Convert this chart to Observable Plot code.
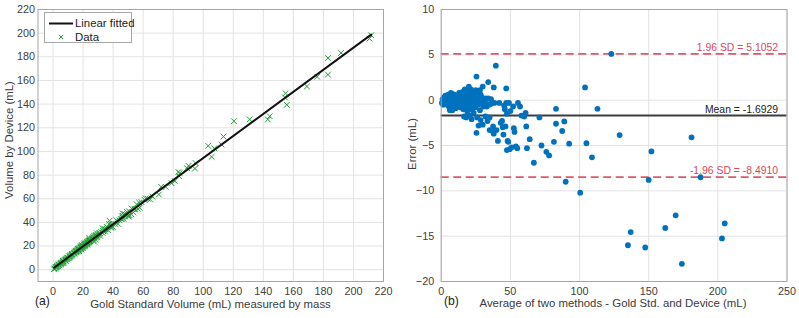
<!DOCTYPE html>
<html>
<head>
<meta charset="utf-8">
<script src="https://cdn.jsdelivr.net/npm/d3@7"></script>
<script src="https://cdn.jsdelivr.net/npm/@observablehq/plot@0.6"></script>
<style>
  body { margin: 0; background: #fff; }
  #wrap { position: relative; width: 799px; height: 318px; font-family: "Liberation Sans", Arial, Helvetica, sans-serif; color: #333; }
  #wrap svg.plot { position: absolute; top: 0; }
  .lbl { position: absolute; white-space: nowrap; font-size: 11.4px; color: #3a3a3a; line-height: 1; }
  .tag { position: absolute; white-space: nowrap; font-size: 12.2px; color: #222; line-height: 1; }
  .rot { transform: translate(-50%, -50%) rotate(-90deg); }
  .cx { transform: translate(-50%, -50%); }
  .legend { position: absolute; left: 44px; top: 12px; width: 88px; height: 31px; border: 1px solid #a8a8a8; background: #fff; box-sizing: border-box; }
  .legend .row { position: absolute; white-space: nowrap; height: 13px; font-size: 11.4px; color: #222; line-height: 13px; }
</style>
</head>
<body>
<div id="wrap"></div>
<script>
// Bland–Altman pairs: mean of the two methods (mL) and difference Device − Gold (mL)
const meanVol = [
  0.5, 1, 1.5, 2, 2.5, 3, 3, 3.5, 4, 4.5, 5, 5, 5.5, 6, 6, 6.5, 7, 7, 7.5, 8,
  8, 8.5, 9, 9, 9.5, 10, 10, 10.5, 11, 11.5, 12, 12, 12.5, 13, 13.5, 14, 14, 14.5, 15, 15,
  15.5, 16, 16, 16.5, 16.5, 17, 17, 17.5, 17.5, 18, 18, 18.5, 18.5, 19, 19, 19, 19.5, 19.5, 20, 20,
  20, 20.5, 20.5, 21, 21, 21.5, 21.5, 22, 22, 22, 22.5, 22.5, 23, 23, 23.5, 23.5, 24, 24, 24.5, 24.5,
  25, 25, 25.5, 25.5, 26, 26, 26.5, 27, 27, 27.5, 28, 28, 28.5, 29, 29, 30, 30, 30.5, 31, 32,
  32, 33, 33.5, 34, 34, 34.5, 35, 35, 36, 36, 37, 37.5, 38, 38, 38.5, 39.5, 40, 41, 42, 43,
  44, 44.5, 45, 45.5, 46, 46.5, 47, 47, 47.5, 47.5, 48, 48.5, 49, 49.5, 50, 51, 52, 52.5, 53, 54,
  55, 55.5, 57, 58, 60, 61, 61.5, 62, 64, 67, 71, 72.5, 76, 78, 81.5, 83, 83, 87.5, 89, 90,
  92.5, 100.5, 104, 105, 109, 113, 123, 129, 135, 137, 147.5, 150, 152, 162, 169.5, 174, 181, 187.5, 203, 205,
  6.3, 4, 2, 11, 13, 15.5, 17, 19.5, 21, 23, 24, 26.5, 28.5, 29.5, 31, 33
];
const diffVol = [
  -0.3, 0.1, -0.5, 0.3, -0.2, 0.5, -0.4, 0.1, 0.4, -0.1, 0.6, -0.6, 0.2, 0.0, -0.8, 0.5, 0.8, -0.3, 0.3, 0.7,
  -1.1, 0.0, 0.4, -0.6, 0.6, 0.2, -0.4, -0.9, 0.5, 0.0, 0.3, -0.5, 0.1, 0.2, -0.3, 0.6, -0.8, 0.0, 0.4, -0.5,
  0.9, 0.1, -1.0, 0.5, -1.8, -0.2, 1.2, 0.3, -0.7, 0.8, -1.9, -0.1, 0.4, 1.0, -0.6, -1.3, 0.2, -0.3, 1.5, 0.6,
  -0.9, 0.0, -1.7, 0.3, -0.5, 1.2, -0.2, 0.7, -1.0, -2.1, 0.1, -0.6, 0.4, -0.3, 0.9, -1.4, -0.1, 0.3, -0.8, 0.6,
  -0.4, 1.1, 2.6, -3.6, 0.2, -1.9, -0.5, 0.9, -2.8, -0.2, 1.1, -1.1, -2.2, 0.4, -0.4, 1.5, -2.7, -0.7, -0.1, 0.2,
  -1.8, -0.4, -2.3, 2.0, 0.2, -0.5, -1.9, -3.3, 0.1, -0.4, -3.4, -2.9, 1.4, -3.7, -0.3, 3.8, -3.3, -4.5, -0.3, -2.5,
  -2.3, -3.0, -3.8, -0.6, -1.0, -2.9, 1.3, -0.3, -1.5, -5.5, -4.5, -4.6, -0.3, -5.4, -1.2, -5.2, -0.7, -3.1, -3.5, -5.1,
  -5.3, -0.3, -0.7, -1.7, -1.8, -1.4, -2.9, -5.3, -4.3, -6.9, -1.9, -5.0, -5.7, -6.1, -4.6, -0.95, -2.6, -3.4, -2.35, -9.0,
  -4.8, -10.2, 1.4, -4.75, -6.3, -0.95, 5.1, -3.85, -16.0, -14.55, -16.25, -8.8, -5.65, -14.1, -12.7, -18.05, -4.1, -8.5, -15.25, -13.6,
  -1.1, -0.2, 0.2, -0.2, 0.8, -0.2, 0.3, 0.9, 0.5, 0.2, -0.1, 0.1, 0.6, -0.3, 0.0, -0.7
];

// Reported agreement statistics
const biasMean = -1.6929;
const loaUpper = 5.1052;
const loaLower = -8.4910;

// Axis ticks
const ticksA = d3.range(0, 221, 20);
const ticksBX = d3.range(0, 251, 50);
const ticksBY = d3.range(-20, 11, 5);

const pairs = meanVol.map((m, i) => ({mean: m, diff: diffVol[i]}));
// Back out each method's reading from its mean and difference
const volumes = pairs.map(d => ({gold: d.mean - d.diff / 2, device: d.mean + d.diff / 2}));

const font = '"Liberation Sans", Arial, Helvetica, sans-serif';
const green = "#21a038";
const blue = "#0072bd";
const red = "#d9475b";
const gridStroke = "#e3e3e3";

const panelA = Plot.plot({
  width: 400, height: 318,
  marginLeft: 37.5, marginRight: 17, marginTop: 9, marginBottom: 37,
  style: {fontFamily: font, fontSize: "10.8px", color: "#404040", background: "transparent", overflow: "visible"},
  x: {domain: [-10, 220]},
  y: {domain: [-10, 220]},
  marks: [
    Plot.gridX(ticksA, {stroke: gridStroke, strokeOpacity: 1}),
    Plot.gridY(ticksA, {stroke: gridStroke, strokeOpacity: 1}),
    Plot.axisX(ticksA, {tickSize: 0, tickPadding: 5.5, label: null}),
    Plot.axisY(ticksA, {tickSize: 0, tickPadding: 3, label: null}),
    Plot.dot(volumes, {x: "gold", y: "device", symbol: "times", r: 2.7, stroke: green, strokeWidth: 1}),
    Plot.linearRegressionY(volumes, {x: "gold", y: "device", stroke: "#111", strokeWidth: 2, ci: 0}),
    Plot.frame({stroke: "#a6a6a6"})
  ]
});

const panelB = Plot.plot({
  width: 399, height: 318,
  marginLeft: 40.7, marginRight: 12.5, marginTop: 9, marginBottom: 37,
  style: {fontFamily: font, fontSize: "10.8px", color: "#404040", background: "transparent", overflow: "visible"},
  x: {domain: [0, 250]},
  y: {domain: [-20, 10]},
  marks: [
    Plot.gridX(ticksBX, {stroke: gridStroke, strokeOpacity: 1}),
    Plot.gridY(ticksBY, {stroke: gridStroke, strokeOpacity: 1}),
    Plot.axisX(ticksBX, {tickSize: 0, tickPadding: 5.5, label: null}),
    Plot.axisY(ticksBY, {tickSize: 0, tickPadding: 7, label: null}),
    Plot.ruleY([loaUpper, loaLower], {stroke: red, strokeWidth: 1.8, strokeDasharray: "8,4.5", strokeOpacity: 0.9}),
    Plot.ruleY([biasMean], {stroke: "#3d3d3d", strokeWidth: 1.8}),
    Plot.dot(pairs, {x: "mean", y: "diff", r: 2.9, fill: blue}),
    Plot.text([loaUpper], {y: d => d, frameAnchor: "right", text: d => `1.96 SD = ${d.toFixed(4)}`, textAnchor: "end", lineAnchor: "bottom", dx: -9, dy: -3, fill: red, fontSize: 10.4}),
    Plot.text([loaLower], {y: d => d, frameAnchor: "right", text: d => `-1.96 SD = ${d.toFixed(4)}`, textAnchor: "end", lineAnchor: "bottom", dx: -9, dy: -3, fill: red, fontSize: 10.4}),
    Plot.text([biasMean], {y: d => d, frameAnchor: "right", text: d => `Mean = ${d.toFixed(4)}`, textAnchor: "end", lineAnchor: "bottom", dx: -9, dy: -3, fill: "#222", fontSize: 10.4}),
    Plot.frame({stroke: "#a6a6a6"})
  ]
});

const wrap = document.getElementById("wrap");
panelA.classList.add("plot");
panelB.classList.add("plot");
panelA.style.left = "0px";
panelB.style.left = "400px";
wrap.appendChild(panelA);
wrap.appendChild(panelB);

function addText(cls, text, x, y) {
  const el = document.createElement("div");
  el.className = cls;
  el.textContent = text;
  el.style.left = x + "px";
  el.style.top = y + "px";
  wrap.appendChild(el);
  return el;
}

addText("lbl cx", "Gold Standard Volume (mL) measured by mass", 210.5, 305);
addText("lbl rot", "Volume by Device (mL)", 9.5, 140);
addText("tag", "(a)", 35, 295);
addText("lbl cx", "Average of two methods - Gold Std. and Device (mL)", 613, 304);
addText("lbl rot", "Error (mL)", 413, 144);
addText("tag", "(b)", 444, 295);

// Legend for the scatter panel
const legend = document.createElement("div");
legend.className = "legend";
legend.innerHTML =
  '<svg width="88" height="31" style="position:absolute;left:0;top:0">' +
  '<line x1="4" x2="28" y1="10.5" y2="10.5" stroke="#111" stroke-width="2"/>' +
  `<path d="M13.8,21.8 L18.2,26.2 M18.2,21.8 L13.8,26.2" stroke="${green}" stroke-width="1"/>` +
  '</svg>';
const r1 = document.createElement("div");
r1.className = "row"; r1.style.left = "30px"; r1.style.top = "4px"; r1.textContent = "Linear fitted";
const r2 = document.createElement("div");
r2.className = "row"; r2.style.left = "30px"; r2.style.top = "17.5px"; r2.textContent = "Data";
legend.appendChild(r1); legend.appendChild(r2);
wrap.appendChild(legend);
</script>
</body>
</html>
